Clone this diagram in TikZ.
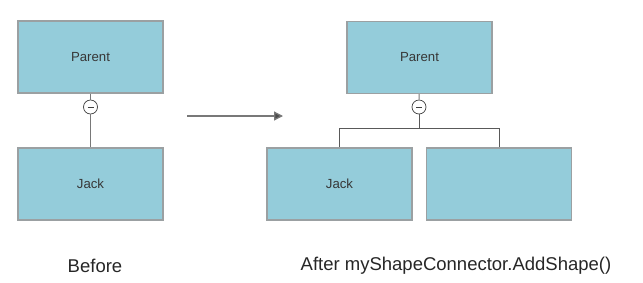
\documentclass[tikz,border=0pt]{standalone}
\usepackage{fontspec}
\setmainfont{Liberation Sans}
\definecolor{boxfill}{RGB}{148, 204, 218}
\definecolor{boxline}{RGB}{155, 160, 162}
\definecolor{linkgray}{RGB}{120, 120, 120}
\definecolor{textgray}{RGB}{55, 55, 55}
\usetikzlibrary{arrows.meta, positioning}
\tikzset{
  shapebox/.style={draw=boxline, fill=boxfill, line width=1.2pt, minimum width=145pt, minimum height=72pt, inner sep=0pt, text=textgray, font=\fontsize{13.2}{15}\selectfont},
  toggle/.style={draw=black!75, fill=white, circle, minimum size=14pt, inner sep=0pt, line width=0.7pt,
    path picture={\draw[black!75, line width=0.9pt] ([xshift=-3pt]path picture bounding box.center) -- ([xshift=3pt]path picture bounding box.center);}},
  link/.style={draw=linkgray, line width=1pt},
  caption/.style={text=black!85, font=\fontsize{18.5}{20}\selectfont}
}

\begin{document}
\begin{tikzpicture}[x=1pt, y=-1pt]
  \useasboundingbox (0,0) rectangle (643,282);

  % before
  \node[shapebox] (parentA) at (90.5,57) {Parent};
  \node[toggle] (toggleA) at (90.5,107) {};
  \node[shapebox] (jackA) at (90.5,184) {Jack};
  \draw[link] (parentA) -- (toggleA) -- (jackA);

  % arrow
  \coordinate (arrowL) at (187,116);
  \coordinate (arrowR) at (283,116);
  \draw[link, line width=1.3pt, -{Triangle[length=9pt, width=9pt, fill=black!70]}] (arrowL) -- (arrowR);

  % after
  \node[shapebox] (parentB) at (419.5,57.5) {Parent};
  \node[toggle] (toggleB) at (419,107) {};
  \coordinate (bus) at (419,128);
  \node[shapebox] (jackB) at (339.5,184) {Jack};
  \node[shapebox] (newB) at (499,184) {};
  \draw[link] (parentB) -- (toggleB);
  \draw[link, draw=black!65] (toggleB) -- (bus) -| (jackB);
  \draw[link, draw=black!65] (bus) -| (newB);

  % captions
  \node[caption] (before) at (95,266) {Before};
  \node[caption] (after) at (456,266) {After myShapeConnector.AddShape()};
\end{tikzpicture}
\end{document}
